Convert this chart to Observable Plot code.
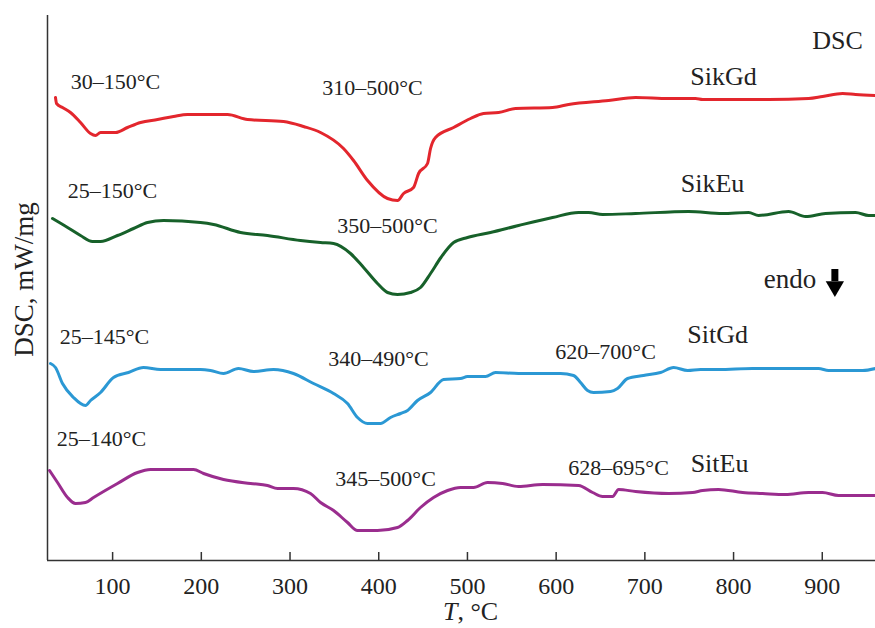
<!DOCTYPE html>
<html>
<head>
<meta charset="utf-8">
<script src="https://cdn.jsdelivr.net/npm/d3@7"></script>
<script src="https://cdn.jsdelivr.net/npm/@observablehq/plot@0.6"></script>
<style>
  html, body { margin: 0; padding: 0; background: #fff; }
  #chart { width: 875px; height: 628px; }
</style>
</head>
<body>
<div id="chart"></div>
<script>
// ---- Data (temperature °C, DSC signal in arbitrary offset units) ----
const sikGdT = [35.6,36.8,43.5,52.5,63.8,75.1,80.7,86.4,103.3,116.8,131.5,150.6,168.7,184.4,229.5,252.1,292.7,315.2,334.4,360.3,371.6,387.4,409.9,421.2,428.0,439.2,444.9,455.0,458.4,464.0,484.4,503.5,518.1,535.1,554.2,596.0,614.0,659.1,689.5,726.7,757.2,765.1,839.5,884.6,900.3,923.0,937.6,960.0];
const sikGdY = [46.3,45.7,45.3,44.8,43.8,42.7,42.5,42.8,42.8,43.3,43.8,44.1,44.4,44.6,44.6,44.1,43.9,43.4,42.8,41.2,40.0,38.0,36.2,36.0,36.7,37.3,38.7,39.7,41.2,42.3,43.3,44.2,44.7,44.8,45.2,45.3,45.6,46.0,46.3,46.2,46.2,46.1,46.1,46.2,46.4,46.7,46.6,46.5];

const sikEuT = [32.2,49.2,63.8,77.3,86.4,105.5,123.6,139.3,157.4,199.1,213.8,244.2,274.6,311.8,334.4,349.1,368.2,382.9,398.6,409.9,421.2,435.8,447.1,458.4,470.1,484.4,500.1,526.0,557.6,596.0,625.3,636.6,652.3,689.5,749.3,787.6,817.0,828.2,862.0,881.2,903.7,937.6,952.3,960.0];
const sikEuY = [34.2,33.3,32.5,31.9,31.9,32.5,33.2,33.8,34.0,33.8,33.6,32.8,32.5,32.0,31.8,31.7,30.7,29.3,27.7,26.8,26.6,26.8,27.3,28.7,30.3,31.8,32.3,32.8,33.5,34.3,34.8,34.8,34.6,34.7,34.9,34.7,34.8,34.5,34.9,34.4,34.7,34.8,34.5,34.5];

const sitGdT = [30.0,35.6,43.5,55.9,69.4,75.1,86.4,101.0,117.9,134.8,154.0,199.1,210.4,225.0,241.9,258.8,281.4,303.9,326.5,349.1,364.8,376.1,387.4,402.0,413.3,424.6,432.5,443.7,458.4,473.1,492.2,500.1,520.4,531.7,557.6,605.0,619.6,627.5,635.4,642.1,661.3,669.2,680.5,698.5,717.7,732.4,748.2,762.8,783.1,821.4,895.8,907.1,945.5,960.0];
const sitGdY = [19.7,19.3,17.7,16.3,15.5,16.0,16.8,18.3,18.8,19.3,19.1,19.1,19.0,18.7,19.2,18.9,19.1,18.7,17.7,16.7,15.7,14.3,13.7,13.7,14.3,14.7,15.0,16.0,16.8,18.1,18.2,18.4,18.4,18.8,18.7,18.7,18.5,17.8,17.0,16.8,16.9,17.2,18.2,18.5,18.8,19.3,19.0,19.1,19.1,19.2,19.2,19.0,19.0,19.2];

const sitEuT = [28.9,37.9,49.2,58.2,69.4,78.5,105.5,128.1,142.7,191.2,202.5,225.0,255.5,274.6,285.9,303.9,323.1,334.4,349.1,364.8,376.1,398.6,421.2,432.5,447.1,461.8,477.6,492.2,506.9,522.6,539.6,557.6,584.7,625.3,641.1,652.3,663.6,670.4,689.5,726.7,753.8,765.1,783.1,810.2,832.7,858.6,884.6,900.3,918.4,960.0];
const sitEuY = [9.0,7.8,6.3,5.7,5.8,6.3,7.7,8.8,9.1,9.1,8.7,8.1,7.7,7.5,7.2,7.2,6.7,5.8,5.0,3.8,3.0,3.0,3.3,4.0,5.3,6.3,7.0,7.3,7.3,7.8,7.7,7.4,7.6,7.5,6.8,6.4,6.4,7.1,6.9,6.7,6.8,7.0,7.1,6.8,6.7,6.6,6.8,6.8,6.5,6.5];

const seriesNames  = ["SikGd", "SikEu", "SitGd", "SitEu"];
const seriesColors = ["#e3262d", "#17612a", "#2b98d4", "#9a2d8e"];
const seriesLabelT = [788.7, 776.3, 782.0, 784.2];
const seriesLabelY = [48.4, 37.7, 22.6, 9.7];

const rangeLabels = ["30–150°C","310–500°C","25–150°C","350–500°C","25–145°C","340–490°C","620–700°C","25–140°C","345–500°C","628–695°C"];
const rangeLabelT = [103.3, 393.0, 99.9, 409.9, 90.9, 399.8, 655.7, 87.5, 407.7, 670.4];
const rangeLabelY = [47.9, 47.3, 37.0, 33.5, 22.4, 20.2, 20.9, 12.2, 8.2, 9.3];

const xTicks = [100, 200, 300, 400, 500, 600, 700, 800, 900];
const xDomain = [26.6, 960];
const yDomain = [0, 54.5];
const xTitle = "T, °C";
const xTitlePos = 503.5;
const yTitle = "DSC, mW/mg";
const yTitlePos = 28.1;
const panelTitle = "DSC";
const panelTitlePos = [917.2, 52.0];
const endoText = "endo";
const endoPos = [863.7, 28.1];
const endoArrow = {T: 914.2, y1: 29.1, y2: 27.9, head: 27.4};

// ---- Build tables ----
const allT = [sikGdT, sikEuT, sitGdT, sitEuT];
const allY = [sikGdY, sikEuY, sitGdY, sitEuY];
const rows = [];
seriesNames.forEach((name, i) => {
  allT[i].forEach((t, j) => rows.push({series: name, T: t, v: allY[i][j]}));
});
const seriesLabels = seriesNames.map((s, i) => ({s, T: seriesLabelT[i], v: seriesLabelY[i]}));
const ranges = rangeLabels.map((s, i) => ({s, T: rangeLabelT[i], v: rangeLabelY[i]}));

const serif = "'Liberation Serif', 'Times New Roman', serif";
const ink = "#222";

const chart = Plot.plot({
  width: 875,
  height: 628,
  marginLeft: 47,
  marginRight: 0,
  marginTop: 15,
  marginBottom: 68,
  x: {domain: xDomain},
  y: {domain: yDomain, axis: null},
  color: {domain: seriesNames, range: seriesColors},
  style: {fontFamily: serif, background: "#fff", color: ink},
  marks: [
    Plot.ruleY([yDomain[0]], {stroke: "#333", strokeWidth: 1.5}),
    Plot.ruleX([xDomain[0]], {stroke: "#333", strokeWidth: 1.5}),
    Plot.ruleX(xTicks, {y1: yDomain[0], y2: 0.8, stroke: "#333", strokeWidth: 1.5}),
    Plot.axisX({ticks: xTicks, tickSize: 0, tickPadding: 16, fontSize: 24, tickFormat: "d", label: null, fill: ink}),
    Plot.line(rows, {x: "T", y: "v", z: "series", stroke: "series", strokeWidth: 3, strokeLinejoin: "round", curve: "monotone-x"}),
    Plot.text(seriesLabels, {x: "T", y: "v", text: "s", fontSize: 26, fill: ink}),
    Plot.text(ranges, {x: "T", y: "v", text: "s", fontSize: 22, fill: ink}),
    Plot.text([panelTitle], {x: panelTitlePos[0], y: panelTitlePos[1], text: d => d, fontSize: 26, fill: ink}),
    Plot.text([endoText], {x: endoPos[0], y: endoPos[1], text: d => d, fontSize: 27, fill: ink}),
    Plot.ruleX([endoArrow], {x: "T", y1: "y1", y2: "y2", stroke: "#000", strokeWidth: 7}),
    Plot.dot([endoArrow], {x: "T", y: "head", symbol: "triangle", rotate: 180, r: 6.8, fill: "#000", stroke: "none"}),
    Plot.text([xTitle], {x: xTitlePos, frameAnchor: "bottom", textAnchor: "middle", dy: 59, text: d => d, fontSize: 26, fill: ink}),
    Plot.text([yTitle], {frameAnchor: "left", textAnchor: "middle", y: yTitlePos, dx: -23, rotate: -90, text: d => d, fontSize: 27, fill: ink})
  ]
});

// italic T in the x-axis title
d3.select(chart).selectAll("text").each(function() {
  if (this.textContent === xTitle && this.childElementCount === 0) {
    const t = d3.select(this);
    t.text(null);
    t.append("tspan").attr("font-style", "italic").text("T");
    t.append("tspan").text(", °C");
  }
});

document.getElementById("chart").appendChild(chart);
</script>
</body>
</html>
